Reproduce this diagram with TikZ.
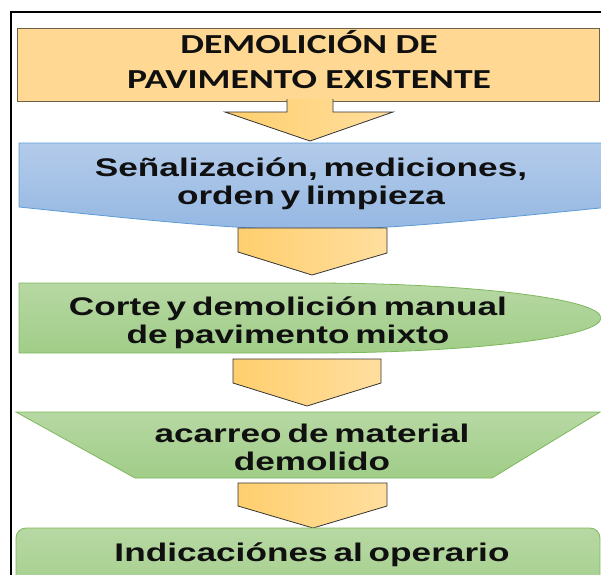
\documentclass[tikz,border=0pt]{standalone}
\usepackage{fontspec}
\usetikzlibrary{positioning}
\newfontfamily\titlefont[FakeStretch=1.37]{Carlito Bold}
\newfontfamily\stepfont[FakeStretch=1.38, WordSpace=0.6]{Liberation Sans Bold}
\definecolor{orangefill}{HTML}{FFD994}
\definecolor{orangeline}{HTML}{6E6148}
\definecolor{arrowleft}{HTML}{FFCF6E}
\definecolor{arrowright}{HTML}{FFDE9E}
\definecolor{bluetop}{HTML}{B3CBEA}
\definecolor{bluebot}{HTML}{93B6E2}
\definecolor{blueline}{HTML}{5B9BD5}
\definecolor{greentop}{HTML}{B7D8A3}
\definecolor{greenbot}{HTML}{A0CD88}
\definecolor{greenline}{HTML}{7DB85C}
\definecolor{textgray}{HTML}{101010}
\begin{document}
\begin{tikzpicture}[
    x=1pt, y=-1pt,
    orangebox/.style={fill=orangefill, draw=orangeline, line width=0.8pt},
    bluebox/.style={top color=bluetop, bottom color=bluebot, draw=blueline, line width=0.8pt},
    greenbox/.style={top color=greentop, bottom color=greenbot, draw=greenline, line width=0.8pt},
    blockarrow/.style={left color=arrowleft, right color=arrowright, draw=black!80, line width=0.8pt},
    steptext/.style={font=\stepfont\fontsize{25.5}{28}\selectfont, text=textgray, align=center, inner sep=0pt},
    titletext/.style={font=\titlefont\fontsize{27.5}{35}\selectfont, text=textgray, align=center, inner sep=0pt}
]
\useasboundingbox (0,0) rectangle (601,574);
\clip (0,0) rectangle (601,574);
% outer frame
\draw[line width=1.6pt] (11,12) rectangle (640,620);

% title box and first arrow
\path[orangebox] (17,28) rectangle (599,101);
\path[blockarrow] (287,99) -- (287,112) -- (225,112) -- (310,141) -- (393,112) -- (333,112) -- (333,99);

% wave box
\path[bluebox] (19,143) -- (610,143) -- (610,207) .. controls (310,237) .. (19,207) -- cycle;
\path[blockarrow] (238,228) -- (387,228) -- (387,253) -- (312,275) -- (238,252) -- cycle;

% delay box
\path[greenbox] (19,283) -- (310,283) arc[start angle=-90, end angle=90, x radius=291, y radius=35] -- (19,353) -- cycle;
\path[blockarrow] (233,359) -- (381,359) -- (381,383) -- (307,406) -- (233,383) -- cycle;

% trapezoid box
\path[greenbox] (16,412) -- (600,412) -- (492,478) -- (135,478) -- cycle;
\path[blockarrow] (238,483) -- (387,483) -- (387,506) -- (313,528) -- (238,506) -- cycle;

% rounded box
\path[greenbox, rounded corners=10pt] (16,528) rectangle (600,610);

% texts
\node[titletext] (demol) at (309,60) {DEMOLICIÓN DE\\PAVIMENTO EXISTENTE};
\node[steptext] (senal) at (311,184) {Señalización, mediciones,\\orden y limpieza};
\node[steptext] (corte) at (288,323) {Corte y demolición manual\\de pavimento mixto};
\node[steptext] (acarreo) at (312,447) {acarreo de material\\demolido};
\node[steptext] (indic) at (312,555) {Indicaciónes al operario};
\end{tikzpicture}
\end{document}
